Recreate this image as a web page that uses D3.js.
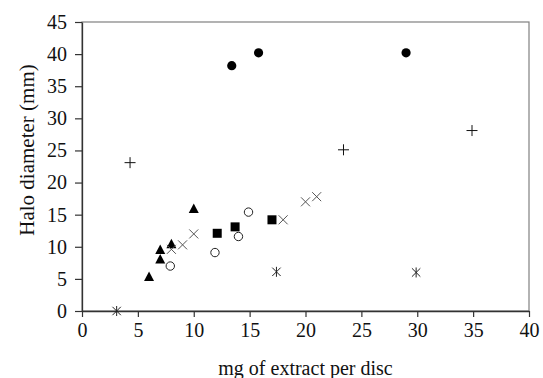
<!DOCTYPE html>
<html>
<head>
<meta charset="utf-8">
<script src="https://cdn.jsdelivr.net/npm/d3@7"></script>
<style>
  body { margin: 0; background: #fff; }
  svg text { font-family: "Liberation Serif", "Times New Roman", serif; fill: #111; }
</style>
</head>
<body>
<div id="chart"></div>
<script>
// series values, [mg per disc, halo diameter mm]
const filledCircles = [[13.4, 38.2], [15.8, 40.2], [29.0, 40.2]];
const plusMarks = [[4.3, 23.1], [23.4, 25.1], [34.9, 28.1]];
const triangles = [[6.0, 5.3], [7.0, 8.0], [7.0, 9.5], [8.0, 10.4], [10.0, 15.9]];
const squares = [[12.1, 12.1], [13.7, 13.1], [17.0, 14.2]];
const openCircles = [[7.9, 7.0], [11.9, 9.1], [14.0, 11.6], [14.9, 15.4]];
const crossMarks = [[8.0, 9.6], [9.0, 10.3], [10.0, 12.0], [18.0, 14.2], [20.0, 17.0], [21.0, 17.8]];
const asterisks = [[3.1, 0], [17.4, 6.1], [29.9, 6.0]];

// tick labels
const xTicks = [0, 5, 10, 15, 20, 25, 30, 35, 40];
const yTicks = [0, 5, 10, 15, 20, 25, 30, 35, 40, 45];

const width = 543, height = 378;
const margin = {top: 22, right: 14, bottom: 67, left: 82};

const svg = d3.select('#chart').append('svg')
    .attr('width', width)
    .attr('height', height);

const x = d3.scaleLinear().domain([0, 40]).range([margin.left, width - margin.right]);
const y = d3.scaleLinear().domain([0, 45]).range([height - margin.bottom, margin.top]);

// plot frame
svg.append('rect')
    .attr('x', x(0)).attr('y', y(45))
    .attr('width', x(40) - x(0)).attr('height', y(0) - y(45))
    .attr('fill', 'none').attr('stroke', '#808080').attr('stroke-width', 1.2);

const xAxis = svg.append('g')
    .attr('transform', 'translate(0,' + y(0) + ')')
    .call(d3.axisBottom(x).tickValues(xTicks).tickSizeInner(6).tickSizeOuter(0).tickPadding(5));

const yAxis = svg.append('g')
    .attr('transform', 'translate(' + x(0) + ',0)')
    .call(d3.axisLeft(y).tickValues(yTicks).tickSizeInner(7).tickSizeOuter(0).tickPadding(8));

[xAxis, yAxis].forEach(g => {
    g.attr('font-family', null).attr('font-size', null);
    g.select('.domain').attr('stroke', '#333').attr('stroke-width', 1.3);
    g.selectAll('.tick line').attr('stroke', '#333').attr('stroke-width', 1.2);
    g.selectAll('.tick text')
        .style('font-size', '20px')
        .style('font-family', '"Liberation Serif", serif')
        .style('fill', '#111');
});
xAxis.selectAll('.tick text').attr('dy', '0.75em');

// axis titles
svg.append('text')
    .attr('x', (x(0) + x(40)) / 2)
    .attr('y', 375)
    .attr('text-anchor', 'middle')
    .style('font-size', '20px')
    .text('mg of extract per disc');

svg.append('text')
    .attr('transform', 'translate(34,' + 150 + ') rotate(-90)')
    .attr('text-anchor', 'middle')
    .style('font-size', '21px')
    .text('Halo diameter (mm)');

const marks = svg.append('g');

// filled circles
marks.selectAll('.fc').data(filledCircles).enter().append('circle')
    .attr('cx', d => x(d[0])).attr('cy', d => y(d[1])).attr('r', 4.6)
    .attr('fill', '#000');

// open circles
marks.selectAll('.oc').data(openCircles).enter().append('circle')
    .attr('cx', d => x(d[0])).attr('cy', d => y(d[1])).attr('r', 4.2)
    .attr('fill', '#fff').attr('stroke', '#222').attr('stroke-width', 1);

// squares
marks.selectAll('.sq').data(squares).enter().append('rect')
    .attr('x', d => x(d[0]) - 4.5).attr('y', d => y(d[1]) - 4.5)
    .attr('width', 9).attr('height', 9)
    .attr('fill', '#000');

// triangles
marks.selectAll('.tr').data(triangles).enter().append('path')
    .attr('d', d => {
        const cx = x(d[0]), cy = y(d[1]);
        return 'M' + cx + ',' + (cy - 5.5) + 'L' + (cx + 5) + ',' + (cy + 4) + 'L' + (cx - 5) + ',' + (cy + 4) + 'Z';
    })
    .attr('fill', '#000');

// plus marks
marks.selectAll('.pl').data(plusMarks).enter().append('path')
    .attr('d', d => {
        const cx = x(d[0]), cy = y(d[1]), s = 5.5;
        return 'M' + (cx - s) + ',' + cy + 'H' + (cx + s) + 'M' + cx + ',' + (cy - s) + 'V' + (cy + s);
    })
    .attr('stroke', '#111').attr('stroke-width', 1).attr('fill', 'none');

// x marks
marks.selectAll('.cr').data(crossMarks).enter().append('path')
    .attr('d', d => {
        const cx = x(d[0]), cy = y(d[1]), s = 4.5;
        return 'M' + (cx - s) + ',' + (cy - s) + 'L' + (cx + s) + ',' + (cy + s) +
               'M' + (cx - s) + ',' + (cy + s) + 'L' + (cx + s) + ',' + (cy - s);
    })
    .attr('stroke', '#555').attr('stroke-width', 1).attr('fill', 'none');

// asterisks
marks.selectAll('.as').data(asterisks).enter().append('path')
    .attr('d', d => {
        const cx = x(d[0]), cy = y(d[1]), s = 4.2;
        return 'M' + (cx - s) + ',' + (cy - s) + 'L' + (cx + s) + ',' + (cy + s) +
               'M' + (cx - s) + ',' + (cy + s) + 'L' + (cx + s) + ',' + (cy - s) +
               'M' + cx + ',' + (cy - s - 0.8) + 'V' + (cy + s + 0.8);
    })
    .attr('stroke', '#222').attr('stroke-width', 1).attr('fill', 'none');
</script>
</body>
</html>
